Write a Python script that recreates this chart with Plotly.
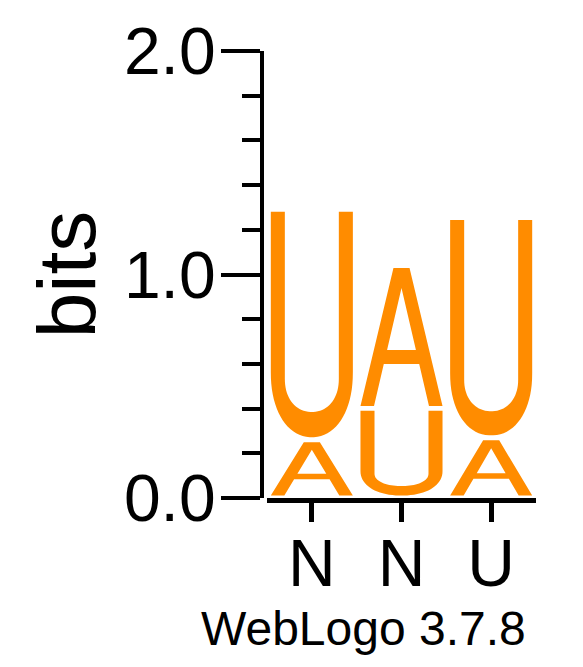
import numpy as np
import plotly.graph_objects as go

# ---------------- data ----------------
positions = [1, 2, 3]
position_labels = ["N", "N", "U"]
letters = ["A", "U"]
bits_A = [0.261, 0.639, 0.269]
bits_U = [1.031, 0.401, 0.986]
y_tick_vals = [0.0, 1.0, 2.0]
y_tick_text = ["0.0", "1.0", "2.0"]
footer = "WebLogo 3.7.8"

# ---------------- style ----------------
COLOR = "#FF8C00"
FONT = "Liberation Sans, Arial, Helvetica, sans-serif"
LETTER_W = 0.915      # fraction of a column
PAD = 0.011           # vertical gap inside each letter slot (bits)


def glyph_U(n=2.15):
    s = 0.171
    ao, ai, ib = 0.288, 0.259, 0.112
    pts = [(0.0, 1.0)]
    th = np.linspace(np.pi, 2 * np.pi, 40)
    c, sn = np.cos(th), np.sin(th)
    ce = np.sign(c) * np.abs(c) ** (2 / n)
    se = np.sign(sn) * np.abs(sn) ** (2 / n)
    pts += list(zip(0.5 + 0.5 * ce, ao + ao * se))
    pts += [(1.0, 1.0), (1 - s, 1.0)]
    rx, ry = 0.5 - s, ai - ib
    pts += list(zip(0.5 + rx * ce[::-1], ai + ry * se[::-1]))
    pts += [(s, 1.0)]
    return [pts]


def glyph_A():
    apex_y, inner_b = 0.855, 0.165
    cb_lo, cb_hi = 0.304, 0.406

    def inner_x(y):
        return (1 - inner_b) - (0.5 - inner_b) * (y / apex_y)

    outer = [(0.0, 0.0), (0.402, 1.0), (0.598, 1.0), (1.0, 0.0),
             (1 - inner_b, 0.0), (inner_x(cb_lo), cb_lo),
             (1 - inner_x(cb_lo), cb_lo), (inner_b, 0.0)]
    hole = [(0.5, apex_y), (inner_x(cb_hi), cb_hi), (1 - inner_x(cb_hi), cb_hi)]
    return [outer, hole]


GLYPHS = {"A": glyph_A(), "U": glyph_U()}


def letter_path(letter, xc, y0, y1):
    x0 = xc - LETTER_W / 2
    ya, yb = y0 + PAD, y1 - PAD
    parts = []
    for poly in GLYPHS[letter]:
        seg = ["{:.5f},{:.5f}".format(x0 + u * LETTER_W, ya + v * (yb - ya)) for u, v in poly]
        parts.append("M" + "L".join(seg) + "Z")
    return "".join(parts)


values = {"A": bits_A, "U": bits_U}
shapes = []
for i, xc in enumerate(positions):
    stack = sorted(letters, key=lambda L: values[L][i])
    base = 0.0
    for L in stack:
        h = values[L][i]
        shapes.append(dict(type="path", xref="x", yref="y",
                           path=letter_path(L, xc, base, base + h),
                           fillcolor=COLOR, line=dict(width=0),
                           fillrule="evenodd", layer="above"))
        base += h

fig = go.Figure()
fig.add_trace(go.Scatter(x=positions, y=[0, 0, 0], mode="markers",
                         marker=dict(opacity=0), hoverinfo="skip", showlegend=False))

fig.update_layout(
    width=583, height=667,
    margin=dict(l=267, r=47, t=51, b=169, pad=0),
    paper_bgcolor="white", plot_bgcolor="white",
    shapes=shapes,
    showlegend=False,
    font=dict(family=FONT, color="black"),
    xaxis=dict(range=[0.5, 3.5], tickvals=positions, ticktext=position_labels,
               showline=True, linewidth=5, linecolor="black",
               ticks="outside", ticklen=19, tickwidth=4.7, tickcolor="black",
               ticklabelstandoff=-15,
               showgrid=False, zeroline=False,
               tickfont=dict(family=FONT, size=66, color="black")),
    yaxis=dict(range=[0, 2], tickvals=y_tick_vals, ticktext=y_tick_text,
               anchor="free", position=0, shift=-5,
               showline=True, linewidth=4.3, linecolor="black",
               ticks="outside", ticklen=39, tickwidth=4, tickcolor="black",
               ticklabelstandoff=-8,
               minor=dict(dtick=0.2, tick0=0, ticks="outside", ticklen=18,
                          tickwidth=4, tickcolor="black", showgrid=False),
               showgrid=False, zeroline=False,
               tickfont=dict(family=FONT, size=66, color="black"),
               title=dict(text="bits", font=dict(family=FONT, size=82, color="black"),
                          standoff=0)),
    annotations=[dict(text=footer, xref="paper", yref="paper",
                      x=(363 - 267) / 269.0, y=-(646 - 498) / 447.0,
                      xanchor="center", yanchor="bottom", yshift=-11, showarrow=False,
                      font=dict(family=FONT, size=48, color="black"))],
)

fig.write_html("out.html")
